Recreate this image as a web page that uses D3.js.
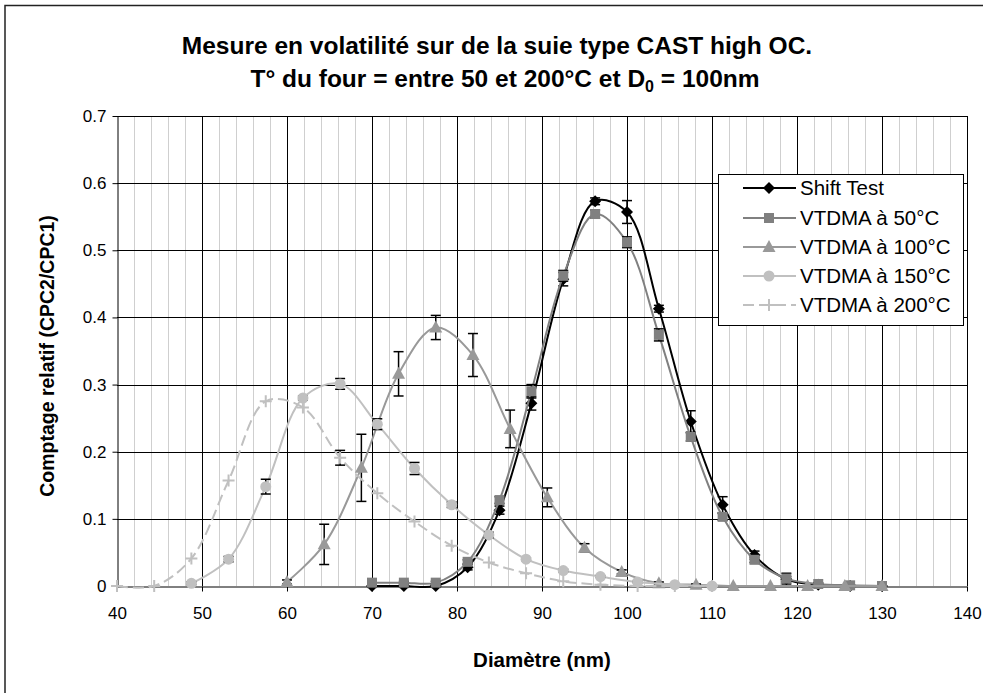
<!DOCTYPE html>
<html><head><meta charset="utf-8">
<script src="https://cdn.jsdelivr.net/npm/d3@7"></script>
<style>body{margin:0;background:#fff}text{font-family:"Liberation Sans",Arial,sans-serif}</style>
</head><body><svg id="c" width="983" height="693"></svg>
<script>
// ---- data ----
const xFine = [70,73.75,77.5,81.25,85,88.75,92.5,96.25,100,103.75,107.5,111.25,115,118.75,122.5,126.25,130];
const shiftTest = [0,0,0,0.028,0.113,0.272,0.457,0.573,0.557,0.413,0.245,0.121,0.046,0.010,0.002,0,0];
const shiftErr  = [0.002,0.002,0.002,0.004,0.006,0.010,0.010,0.005,0.017,0.005,0.016,0.012,0.006,0.004,0.002,0.001,0];
const vt50      = [0.005,0.005,0.005,0.036,0.128,0.290,0.462,0.554,0.512,0.374,0.222,0.103,0.039,0.011,0.003,0.001,0];
const vt50Err   = [0.002,0.002,0.002,0.003,0.005,0.010,0.008,0.006,0.008,0.009,0.006,0.005,0.004,0.008,0.002,0.001,0];
const x100 = [60,64.375,68.75,73.125,77.5,81.875,86.25,90.625,95,99.375,103.75,108.125,112.5,116.875,121.25,125.625,130];
const vt100     = [0.006,0.062,0.176,0.316,0.385,0.344,0.234,0.132,0.057,0.021,0.004,0.002,0,0,0,0,0];
const vt100Err  = [0.003,0.030,0.050,0.033,0.018,0.032,0.028,0.014,0.006,0.003,0.002,0.001,0,0,0,0,0];
const x150 = [48.75,53.125,57.5,61.875,66.25,70.625,75,79.375,83.75,88.125,92.5,96.875,101.25,105.625,110];
const vt150     = [0.004,0.040,0.148,0.280,0.301,0.241,0.175,0.121,0.076,0.040,0.023,0.014,0.006,0.002,0];
const vt150Err  = [0.002,0.004,0.011,0.003,0.008,0.008,0.009,0.004,0.004,0.002,0.002,0.001,0.001,0,0];
const x200 = [40,44.375,48.75,53.125,57.5,61.875,66.25,70.625,75,79.375,83.75,88.125,92.5,96.875,101.25,105.625,110];
const vt200     = [0,0,0.041,0.157,0.275,0.266,0.191,0.138,0.096,0.060,0.035,0.019,0.007,0.002,0,0,0];
const vt200Err  = [0,0,0,0,0,0,0.011,0,0,0,0,0,0,0,0,0,0];
const xTicks = [40,50,60,70,80,90,100,110,120,130,140];
const yTicks = [0,0.1,0.2,0.3,0.4,0.5,0.6,0.7];
const seriesNames = ["Shift Test","VTDMA à 50°C","VTDMA à 100°C","VTDMA à 150°C","VTDMA à 200°C"];

const svg = d3.select("#c");
svg.append("rect").attr("width",983).attr("height",693).attr("fill","#fff");
svg.append("rect").attr("x",5).attr("y",5.5).attr("width",1000).attr("height",720)
  .attr("fill","none").attr("stroke","#222").attr("stroke-width",1.5);

const x = d3.scaleLinear().domain([40,140]).range([117,967]);
const y = d3.scaleLinear().domain([0,0.7]).range([586,116]);

// grid
const g = svg.append("g");
const minor = d3.range(42,140,2).filter(v=>v%10!==0);
g.selectAll(".mn").data(minor).join("line")
  .attr("x1",d=>Math.round(x(d))+0.5).attr("x2",d=>Math.round(x(d))+0.5)
  .attr("y1",y(0.7)).attr("y2",y(0)).attr("stroke","#cfcfcf").attr("stroke-width",1);
g.selectAll(".mj").data(xTicks.slice(1)).join("line")
  .attr("x1",d=>Math.round(x(d))+0.5).attr("x2",d=>Math.round(x(d))+0.5)
  .attr("y1",y(0.7)).attr("y2",y(0)).attr("stroke","#000").attr("stroke-width",1);
g.selectAll(".hz").data(yTicks.slice(1)).join("line")
  .attr("x1",x(40)).attr("x2",x(140))
  .attr("y1",d=>Math.round(y(d))+0.5).attr("y2",d=>Math.round(y(d))+0.5)
  .attr("stroke","#000").attr("stroke-width",1);

// axes
const xa = svg.append("g").attr("transform",`translate(0,${Math.round(y(0))+0.5})`)
  .call(d3.axisBottom(x).tickValues(xTicks).tickSize(5).tickSizeOuter(0).tickFormat(d3.format("d")));
const ya = svg.append("g").attr("transform",`translate(${Math.round(x(40))+0.5},0)`)
  .call(d3.axisLeft(y).tickValues(yTicks).tickSize(5).tickSizeOuter(0).tickFormat(d=>d===0?"0":d3.format(".1f")(d)));
[xa,ya].forEach(a=>{a.select(".domain").attr("stroke","#000");a.selectAll("line").attr("stroke","#000");
  a.selectAll("text").attr("font-size",17).attr("fill","#000").style("font-family","Liberation Sans, Arial");});
xa.selectAll("text").attr("y",20).attr("dy","0.71em");
ya.selectAll("text").attr("x",-11);

// titles
svg.append("text").attr("x",497).attr("y",54).attr("text-anchor","middle").attr("font-weight","bold")
  .attr("font-size",24.5).text("Mesure en volatilité sur de la suie type CAST high OC.");
const t2 = svg.append("text").attr("x",505).attr("y",87).attr("text-anchor","middle").attr("font-weight","bold").attr("font-size",24.5);
t2.append("tspan").text("T° du four = entre 50 et 200°C et D");
t2.append("tspan").attr("font-size",16).attr("dy",5).text("0");
t2.append("tspan").attr("dy",-5).text(" = 100nm");
svg.append("text").attr("transform","translate(54,356) rotate(-90)").attr("text-anchor","middle")
  .attr("font-weight","bold").attr("font-size",19.5).text("Comptage relatif (CPC2/CPC1)");
svg.append("text").attr("x",542).attr("y",667).attr("text-anchor","middle")
  .attr("font-weight","bold").attr("font-size",20.5).text("Diamètre (nm)");

// series
const series = [
  {xs:xFine, ys:shiftTest, err:shiftErr, color:"#000", marker:"diamond", dash:null},
  {xs:xFine, ys:vt50, err:vt50Err, color:"#808080", marker:"square", dash:null},
  {xs:x100, ys:vt100, err:vt100Err, color:"#999999", marker:"triangle", dash:null},
  {xs:x150, ys:vt150, err:vt150Err, color:"#c0c0c0", marker:"circle", dash:null},
  {xs:x200, ys:vt200, err:vt200Err, color:"#c0c0c0", marker:"plus", dash:"11,5"}
];
const line = d3.line().x(d=>x(d[0])).y(d=>y(d[1])).curve(d3.curveCatmullRom.alpha(0.5));
function drawMarker(sel, type, color){
  if(type==="diamond") sel.append("path").attr("d","M0,-6L6,0L0,6L-6,0Z").attr("fill",color);
  else if(type==="square") sel.append("rect").attr("x",-5).attr("y",-5).attr("width",10).attr("height",10).attr("fill",color);
  else if(type==="triangle") sel.append("path").attr("d","M0,-7L6.5,5L-6.5,5Z").attr("fill",color);
  else if(type==="circle") sel.append("circle").attr("r",5.5).attr("fill",color);
  else if(type==="plus") sel.append("path").attr("d","M-6,0H6M0,-6V6").attr("stroke",color).attr("stroke-width",2).attr("fill","none");
}
series.forEach(s=>{
  const pts = s.xs.map((v,i)=>[v,s.ys[i],s.err[i]]);
  const sg = svg.append("g");
  sg.append("path").datum(pts).attr("d",line).attr("fill","none").attr("stroke",s.color)
    .attr("stroke-width",2).attr("stroke-dasharray",s.dash);
  const eb = sg.append("g").attr("stroke","#000").attr("stroke-width",1.5);
  pts.filter(p=>p[2]>0).forEach(p=>{
    const cx=x(p[0]), y1=y(p[1]+p[2]), y2=y(p[1]-p[2]);
    eb.append("line").attr("x1",cx).attr("x2",cx).attr("y1",y1).attr("y2",y2);
    eb.append("line").attr("x1",cx-5).attr("x2",cx+5).attr("y1",y1).attr("y2",y1);
    eb.append("line").attr("x1",cx-5).attr("x2",cx+5).attr("y1",y2).attr("y2",y2);
  });
  pts.forEach(p=>{ drawMarker(sg.append("g").attr("transform",`translate(${x(p[0])},${y(p[1])})`), s.marker, s.color); });
});

// legend
const lg = svg.append("g");
lg.append("rect").attr("x",718.5).attr("y",174.5).attr("width",245).attr("height",151).attr("fill","#fff").attr("stroke","#000");
const rowsY = [188,218,247,276,305];
series.forEach((s,i)=>{
  const r = lg.append("g").attr("transform",`translate(0,${rowsY[i]})`);
  r.append("line").attr("x1",743).attr("x2",796).attr("stroke",s.color).attr("stroke-width",2).attr("stroke-dasharray",s.dash);
  drawMarker(r.append("g").attr("transform","translate(769,0)"), s.marker, s.color);
  r.append("text").attr("x",800).attr("y",7).attr("font-size",20.5).text(seriesNames[i]);
});
</script></body></html>
